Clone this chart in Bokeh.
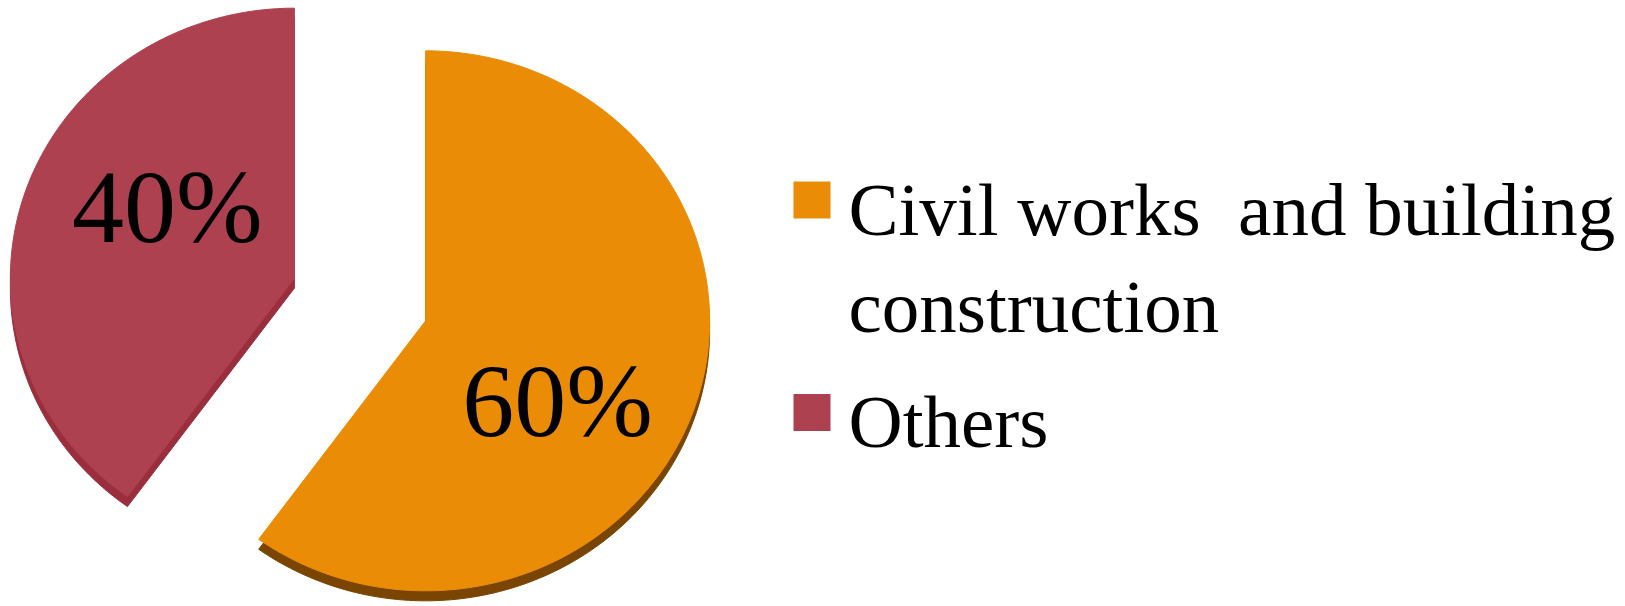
import numpy as np
from bokeh.plotting import figure
from bokeh.models import Range1d, ColumnDataSource
from bokeh.core.properties import value
from bokeh.embed import file_html
from bokeh.resources import INLINE

# ---- data ----
categories = ["Civil works  and building construction", "Others"]
legend_labels = ["Civil works \u00a0and building\nconstruction", "Others"]
values = [60, 40]
pct_labels = ["60%", "40%"]

# ---- styling / layout ----
face_colors = ["#EB8C06", "#AE4150"]
side_colors = ["#7A4500", "#9A2E3D"]
W, H = 1625, 606
CX, CY = 359.5, 299.0      # pie centre (screen px)
RX, RY = 284.0, 270.0      # elliptical radii (tilted pie)
EXPLODE = 69.0
DEPTH = 10.0
LABEL_DX = [132.0, -127.0]
LABEL_DY = [80.0, -72.0]
LEG_X = 811.5
LEG_SQ = 37
LEG_Y = [199.5, 412.0]
LEG_TX = 848

p = figure(width=W, height=H, x_range=Range1d(0, W), y_range=Range1d(H, 0),
           output_backend="svg", toolbar_location=None, min_border=0)
p.axis.visible = False
p.grid.visible = False
p.outline_line_color = None
p.background_fill_color = "white"
p.border_fill_color = "white"

total = float(sum(values))
fracs = np.array(values) / total
ends = np.cumsum(fracs) * 2 * np.pi
starts = ends - fracs * 2 * np.pi
mids = (starts + ends) / 2

def sector(cx, cy, a0, a1, n=200):
    t = np.linspace(a0, a1, n)
    xs = np.concatenate([[cx], cx + RX * np.sin(t)])
    ys = np.concatenate([[cy], cy - RY * np.cos(t)])
    return list(xs), list(ys)

centers = []
for i in range(len(values)):
    ox = EXPLODE * np.sin(mids[i])
    oy = -EXPLODE * np.cos(mids[i])
    centers.append((CX + ox, CY + oy))

# side (3D depth) polygons, drawn first
side_x, side_y, face_x, face_y = [], [], [], []
for i in range(len(values)):
    cx, cy = centers[i]
    sx, sy = sector(cx, cy + DEPTH, starts[i], ends[i])
    side_x.append(sx); side_y.append(sy)
    fx, fy = sector(cx, cy, starts[i], ends[i])
    face_x.append(fx); face_y.append(fy)

p.patches(side_x, side_y, fill_color=side_colors, line_color=side_colors, line_width=1)
p.patches(face_x, face_y, fill_color=face_colors, line_color=face_colors, line_width=1)

# percentage labels
lab = ColumnDataSource(dict(
    x=[centers[i][0] + LABEL_DX[i] for i in range(len(values))],
    y=[centers[i][1] + LABEL_DY[i] for i in range(len(values))],
    t=pct_labels))
p.text(x="x", y="y", text="t", source=lab, text_font=value("Liberation Serif"),
       text_font_size="104px", text_align="center", text_baseline="middle",
       text_color="black")

# legend
p.rect(x=[LEG_X] * len(values), y=LEG_Y, width=LEG_SQ, height=LEG_SQ,
       fill_color=face_colors, line_color=None)
leg = ColumnDataSource(dict(x=[LEG_TX] * len(values),
                            y=[y - 32.5 for y in LEG_Y], t=legend_labels))
p.text(x="x", y="y", text="t", source=leg, text_font=value("Liberation Serif"),
       text_font_size="75px", text_align="left", text_baseline="top",
       text_color="black", text_line_height=1.17)

open("out.html", "w").write(file_html(p, INLINE))
